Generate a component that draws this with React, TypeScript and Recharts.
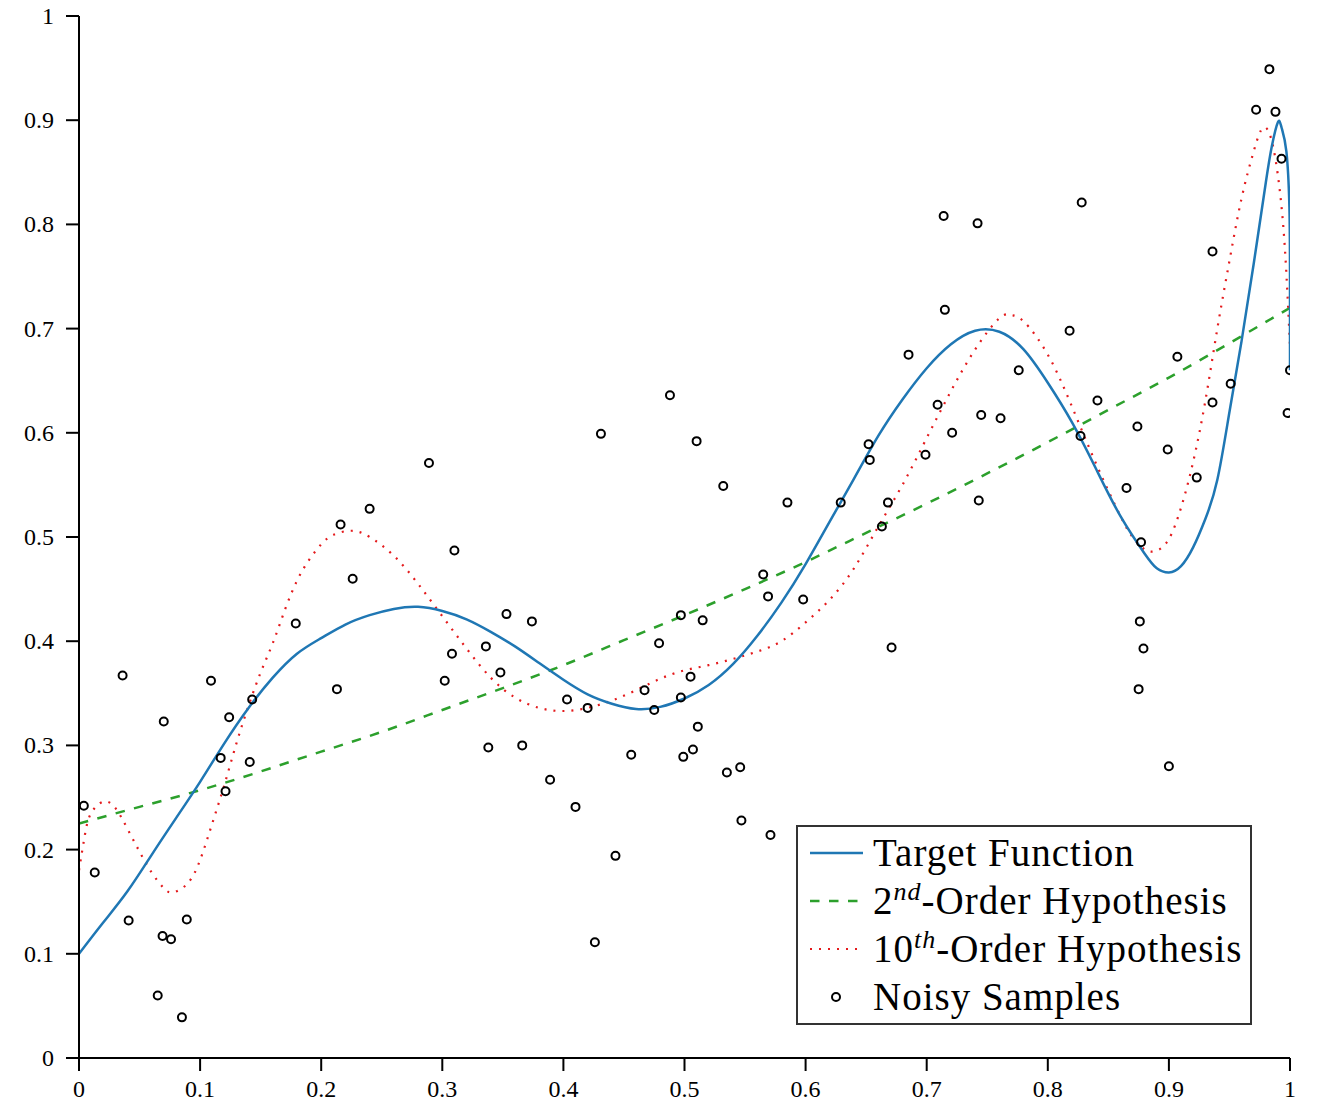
import { ComposedChart, Line, Scatter, XAxis, YAxis } from 'recharts'

const axisTicks = [0, 0.1, 0.2, 0.3, 0.4, 0.5, 0.6, 0.7, 0.8, 0.9, 1]

// target function
const targetX = [
  0, 0.02, 0.04, 0.06, 0.08, 0.1, 0.12, 0.14, 0.16, 0.18, 0.2, 0.22, 0.24, 0.26, 0.28, 0.3, 0.32,
  0.34, 0.36, 0.38, 0.4, 0.42, 0.44, 0.46, 0.48, 0.5, 0.52, 0.54, 0.56, 0.58, 0.6, 0.62, 0.64,
  0.66, 0.68, 0.7, 0.72, 0.74, 0.76, 0.78, 0.8, 0.82, 0.84, 0.86, 0.88, 0.89, 0.9, 0.91, 0.92,
  0.93, 0.94, 0.95, 0.96, 0.97, 0.98, 0.985, 0.99, 0.993, 0.997, 0.9995, 1, 1,
]
const targetY = [
  0.1, 0.13, 0.16, 0.195, 0.23, 0.265, 0.302, 0.336, 0.365, 0.388, 0.403, 0.416, 0.425, 0.431,
  0.433, 0.429, 0.421, 0.409, 0.395, 0.379, 0.363, 0.349, 0.34, 0.335, 0.337, 0.345, 0.358, 0.378,
  0.405, 0.437, 0.474, 0.515, 0.556, 0.597, 0.632, 0.662, 0.685, 0.698, 0.697, 0.68, 0.648, 0.61,
  0.565, 0.52, 0.484, 0.47, 0.466, 0.472, 0.49, 0.517, 0.555, 0.62, 0.688, 0.762, 0.84, 0.875,
  0.898, 0.893, 0.87, 0.817, 0.753, 0.66,
]

// 2nd-order fit
const order2X = [0, 0.05, 0.1, 0.15, 0.2, 0.25, 0.3, 0.35, 0.4, 0.45, 0.5, 0.55, 0.6, 0.65, 0.7, 0.75, 0.8, 0.85, 0.9, 0.95, 1]
const order2Y = [
  0.225, 0.241, 0.257, 0.275, 0.294, 0.313, 0.334, 0.355, 0.377, 0.401, 0.425, 0.45, 0.476, 0.504,
  0.532, 0.561, 0.591, 0.622, 0.653, 0.686, 0.72,
]

// 10th-order fit
const order10X = [
  0, 0.005, 0.01, 0.02, 0.03, 0.04, 0.05, 0.06, 0.07, 0.078, 0.09, 0.1, 0.11, 0.12, 0.13, 0.14,
  0.15, 0.16, 0.17, 0.18, 0.19, 0.2, 0.21, 0.225, 0.24, 0.26, 0.28, 0.3, 0.32, 0.34, 0.36, 0.38,
  0.4, 0.42, 0.44, 0.46, 0.48, 0.5, 0.52, 0.54, 0.56, 0.58, 0.6, 0.62, 0.64, 0.66, 0.68, 0.7,
  0.72, 0.74, 0.76, 0.77, 0.78, 0.8, 0.82, 0.84, 0.86, 0.87, 0.88, 0.89, 0.9, 0.91, 0.92, 0.93,
  0.94, 0.95, 0.96, 0.97, 0.978, 0.986, 0.993, 0.997, 1,
]
const order10Y = [
  0.18, 0.215, 0.235, 0.246, 0.24, 0.22, 0.198, 0.178, 0.163, 0.159, 0.168, 0.19, 0.225, 0.262,
  0.302, 0.338, 0.37, 0.398, 0.43, 0.458, 0.478, 0.493, 0.502, 0.506, 0.5, 0.482, 0.455, 0.424,
  0.393, 0.365, 0.346, 0.336, 0.333, 0.336, 0.343, 0.353, 0.364, 0.372, 0.377, 0.383, 0.39, 0.4,
  0.418, 0.44, 0.47, 0.51, 0.55, 0.595, 0.64, 0.68, 0.71, 0.713, 0.707, 0.675, 0.625, 0.57, 0.52,
  0.5, 0.488, 0.487, 0.498, 0.528, 0.572, 0.63, 0.7, 0.765, 0.825, 0.87, 0.893, 0.875, 0.817,
  0.753, 0.683,
]

// noisy samples
const sampleX = [
  0.004, 0.013, 0.036, 0.041, 0.065, 0.069, 0.07, 0.076, 0.085, 0.089, 0.109, 0.117, 0.121, 0.124,
  0.141, 0.143, 0.179, 0.213, 0.216, 0.226, 0.24, 0.289, 0.302, 0.308, 0.31, 0.336, 0.338, 0.348,
  0.353, 0.366, 0.374, 0.389, 0.403, 0.41, 0.42, 0.426, 0.431, 0.443, 0.456, 0.467, 0.475, 0.479,
  0.488, 0.497, 0.497, 0.499, 0.505, 0.507, 0.51, 0.511, 0.515, 0.532, 0.535, 0.546, 0.547, 0.565,
  0.569, 0.571, 0.585, 0.598, 0.629, 0.652, 0.653, 0.663, 0.668, 0.671, 0.685, 0.699, 0.709, 0.714,
  0.715, 0.721, 0.742, 0.743, 0.745, 0.761, 0.776, 0.818, 0.827, 0.828, 0.841, 0.865, 0.874, 0.875,
  0.876, 0.877, 0.879, 0.899, 0.9, 0.907, 0.923, 0.936, 0.936, 0.951, 0.972, 0.983, 0.988, 0.993,
  0.998, 1.0,
]
const sampleY = [
  0.242, 0.178, 0.367, 0.132, 0.06, 0.117, 0.323, 0.114, 0.039, 0.133, 0.362, 0.288, 0.256, 0.327,
  0.284, 0.344, 0.417, 0.354, 0.512, 0.46, 0.527, 0.571, 0.362, 0.388, 0.487, 0.395, 0.298, 0.37,
  0.426, 0.3, 0.419, 0.267, 0.344, 0.241, 0.336, 0.111, 0.599, 0.194, 0.291, 0.353, 0.334, 0.398,
  0.636, 0.425, 0.346, 0.289, 0.366, 0.296, 0.592, 0.318, 0.42, 0.549, 0.274, 0.279, 0.228, 0.464,
  0.443, 0.214, 0.533, 0.44, 0.533, 0.589, 0.574, 0.51, 0.533, 0.394, 0.675, 0.579, 0.627, 0.808,
  0.718, 0.6, 0.801, 0.535, 0.617, 0.614, 0.66, 0.698, 0.597, 0.821, 0.631, 0.547, 0.606, 0.354,
  0.419, 0.495, 0.393, 0.584, 0.28, 0.673, 0.557, 0.629, 0.774, 0.647, 0.91, 0.949, 0.908, 0.863,
  0.619, 0.66,
]

const toPoints = (xs: number[], ys: number[]) => xs.map((x, i) => ({ x, y: ys[i] }))

const BLUE = '#1f77b4'
const GREEN = '#2ca02c'
const RED = '#e41a1c'
const FONT = '"Liberation Serif", "DejaVu Serif", serif'

const fmt = (v: number) => (v === 0 ? '0' : v === 1 ? '1' : String(v))

function XTick({ x, y, payload }: any) {
  return (
    <text x={x} y={y} dy={18} textAnchor="middle" fill="#000" fontFamily={FONT} fontSize={24}>
      {fmt(payload.value)}
    </text>
  )
}

function YTick({ x, y, payload }: any) {
  return (
    <text x={x} y={y} dy={8} textAnchor="end" fill="#000" fontFamily={FONT} fontSize={24}>
      {fmt(payload.value)}
    </text>
  )
}

function LegendBox() {
  const row: React.CSSProperties = { display: 'flex', alignItems: 'center', height: 48 }
  const label: React.CSSProperties = {
    fontSize: 39,
    lineHeight: '48px',
    whiteSpace: 'nowrap',
    marginLeft: 10,
    letterSpacing: 1,
  }
  const sup: React.CSSProperties = { fontStyle: 'italic', fontSize: 26, verticalAlign: 14, lineHeight: 0 }
  return (
    <div
      style={{
        position: 'absolute',
        left: 788,
        top: 825,
        width: 440,
        height: 194,
        border: '2px solid #333',
        background: '#fff',
        padding: '2px 0 0 12px',
        boxSizing: 'content-box',
        fontFamily: FONT,
        color: '#000',
      }}
    >
      <div style={row}>
        <svg width={53} height={10}>
          <line x1={0} y1={5} x2={53} y2={5} stroke={BLUE} strokeWidth={2.5} />
        </svg>
        <span style={label}>Target Function</span>
      </div>
      <div style={row}>
        <svg width={53} height={10}>
          <line x1={0} y1={5} x2={53} y2={5} stroke={GREEN} strokeWidth={2.5} strokeDasharray="9.5 9.5" />
        </svg>
        <span style={label}>
          2<sup style={sup}>nd</sup>-Order Hypothesis
        </span>
      </div>
      <div style={row}>
        <svg width={53} height={10}>
          <line x1={0} y1={5} x2={53} y2={5} stroke={RED} strokeWidth={2.2} strokeDasharray="2 7" />
        </svg>
        <span style={label}>
          10<sup style={sup}>th</sup>-Order Hypothesis
        </span>
      </div>
      <div style={row}>
        <svg width={53} height={12}>
          <circle cx={26} cy={6} r={4} fill="none" stroke="#000" strokeWidth={2} />
        </svg>
        <span style={label}>Noisy Samples</span>
      </div>
    </div>
  )
}

export default function App() {
  const axisStroke = { stroke: '#000', strokeWidth: 2 }
  return (
    <div
      style={{
        position: 'relative',
        width: 1301,
        height: 1105,
        marginTop: -8,
        fontFamily: FONT,
        background: '#fff',
      }}
    >
      <ComposedChart width={1301} height={1105} margin={{ top: 16, right: 19, bottom: 0, left: 0 }}>
        <XAxis
          type="number"
          dataKey="x"
          domain={[0, 1]}
          ticks={axisTicks}
          tick={<XTick />}
          tickSize={13}
          tickMargin={8}
          height={47}
          axisLine={axisStroke}
          tickLine={axisStroke}
          allowDataOverflow
        />
        <YAxis
          type="number"
          dataKey="y"
          domain={[0, 1]}
          ticks={axisTicks}
          tick={<YTick />}
          tickSize={13}
          tickMargin={12}
          width={71}
          axisLine={axisStroke}
          tickLine={axisStroke}
          allowDataOverflow
        />
        <Line
          data={toPoints(order2X, order2Y)}
          dataKey="y"
          type="natural"
          stroke={GREEN}
          strokeWidth={2.5}
          strokeDasharray="9.5 9.5"
          dot={false}
          isAnimationActive={false}
        />
        <Line
          data={toPoints(order10X, order10Y)}
          dataKey="y"
          type="natural"
          stroke={RED}
          strokeWidth={2.2}
          strokeDasharray="2 7"
          dot={false}
          isAnimationActive={false}
        />
        <Line
          data={toPoints(targetX, targetY)}
          dataKey="y"
          type="natural"
          stroke={BLUE}
          strokeWidth={2.5}
          dot={false}
          isAnimationActive={false}
        />
        <Scatter
          data={toPoints(sampleX, sampleY)}
          dataKey="y"
          isAnimationActive={false}
          shape={(p: any) => <circle cx={p.cx} cy={p.cy} r={4} fill="none" stroke="#000" strokeWidth={2} />}
        />
      </ComposedChart>
      <LegendBox />
    </div>
  )
}
